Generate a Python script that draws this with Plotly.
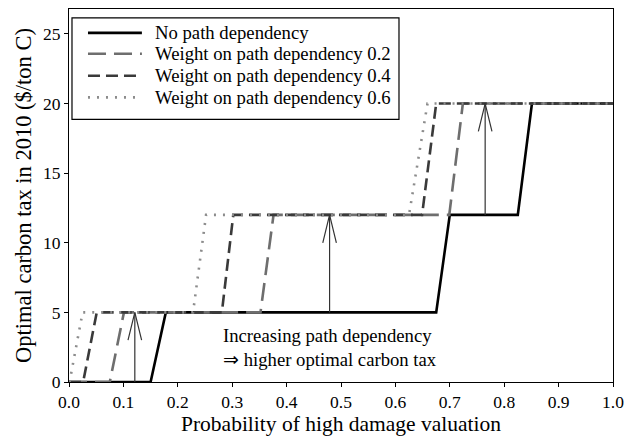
import plotly.graph_objects as go

# ---------------------------------------------------------------
# Step curves: optimal 2010 carbon tax vs probability of high damage
# ---------------------------------------------------------------
no_pd_x = [0.0, 0.150, 0.178, 0.675, 0.700, 0.825, 0.851, 1.0]
w02_x = [0.0, 0.075, 0.101, 0.352, 0.376, 0.699, 0.724, 1.0]
w04_x = [0.0, 0.026, 0.051, 0.281, 0.302, 0.649, 0.675, 1.0]
w06_x = [0.0, 0.001, 0.025, 0.228, 0.252, 0.625, 0.659, 1.0]
tax_y = [0, 0, 5, 5, 12, 12, 20, 20]

series_names = [
    "No path dependency",
    "Weight on path dependency 0.2",
    "Weight on path dependency 0.4",
    "Weight on path dependency 0.6",
]

# arrows showing the shift (x, from, to)
arrow_x = [0.121, 0.479, 0.765]
arrow_from = [0, 5, 12]
arrow_to = [5, 12, 20]

x_ticks = [0.0, 0.1, 0.2, 0.3, 0.4, 0.5, 0.6, 0.7, 0.8, 0.9, 1.0]
y_ticks = [0, 5, 10, 15, 20, 25]

FONT = "Liberation Serif, Times New Roman, serif"

fig = go.Figure()

styles = [
    dict(color="black", width=2.6, dash="solid"),
    dict(color="#6e6e6e", width=2.6, dash="18px,8px"),
    dict(color="#3a3a3a", width=2.6, dash="12px,6px"),
    dict(color="#8c8c8c", width=2.6, dash="2px,7px"),
]

for xs, name, st in zip([no_pd_x, w02_x, w04_x, w06_x], series_names, styles):
    fig.add_trace(go.Scatter(x=xs, y=tax_y, mode="lines", name=name, line=st,
                             showlegend=False))

# arrows: shaft + open V head
head_dx = 0.0125
head_dy = 2.0
for ax, a0, a1 in zip(arrow_x, arrow_from, arrow_to):
    fig.add_trace(go.Scatter(
        x=[ax, ax, None, ax - head_dx, ax, ax + head_dx],
        y=[a0, a1, None, a1 - head_dy, a1, a1 - head_dy],
        mode="lines", line=dict(color="#333333", width=1.2),
        showlegend=False, hoverinfo="skip",
    ))

fig.add_annotation(
    x=0.279, y=2.5, xref="x", yref="y", xanchor="left", yanchor="middle",
    text="Increasing path dependency<br>⇒ higher optimal carbon tax",
    showarrow=False, align="left",
    font=dict(family=FONT, size=18.7, color="black"),
)

# legend box drawn by hand (tighter rows and longer samples than plotly's)
leg_rows = [0.936, 0.880, 0.821, 0.763]
fig.add_shape(type="rect", xref="paper", yref="paper",
              x0=0.0055, x1=0.6066, y0=0.704, y1=0.976,
              line=dict(color="black", width=1.2), fillcolor="white", layer="above")
for yy, name, st in zip(leg_rows, series_names, styles):
    fig.add_shape(type="line", xref="paper", yref="paper",
                  x0=0.0349, x1=0.134, y0=yy, y1=yy, line=st, layer="above")
    fig.add_annotation(x=0.154, y=yy, xref="paper", yref="paper",
                       xanchor="left", yanchor="middle", text=name,
                       showarrow=False,
                       font=dict(family=FONT, size=18.7, color="black"))

axis_common = dict(
    showgrid=False, zeroline=False, showline=True, mirror=True,
    linecolor="black", linewidth=1.2, ticks="outside", ticklen=4,
    tickcolor="black", tickfont=dict(family=FONT, size=17.5, color="black"),
)

fig.update_xaxes(
    range=[0, 1], tickvals=x_ticks, tickformat=".1f",
    title=dict(text="Probability of high damage valuation",
               font=dict(family=FONT, size=21.5, color="black"), standoff=9),
    **axis_common,
)
fig.update_yaxes(
    range=[0, 26.79], tickvals=y_ticks,
    title=dict(text="Optimal carbon tax in 2010 ($/ton C)",
               font=dict(family=FONT, size=22.5, color="black"), standoff=5),
    **axis_common,
)

# page body has an 8px margin, so the figure is sized to fit inside it
fig.update_layout(
    width=618, height=428,
    margin=dict(l=61, r=13, t=0, b=53),
    plot_bgcolor="white", paper_bgcolor="white",
    font=dict(family=FONT, size=18, color="black"),
    showlegend=False,
)

fig.write_html("out.html")
